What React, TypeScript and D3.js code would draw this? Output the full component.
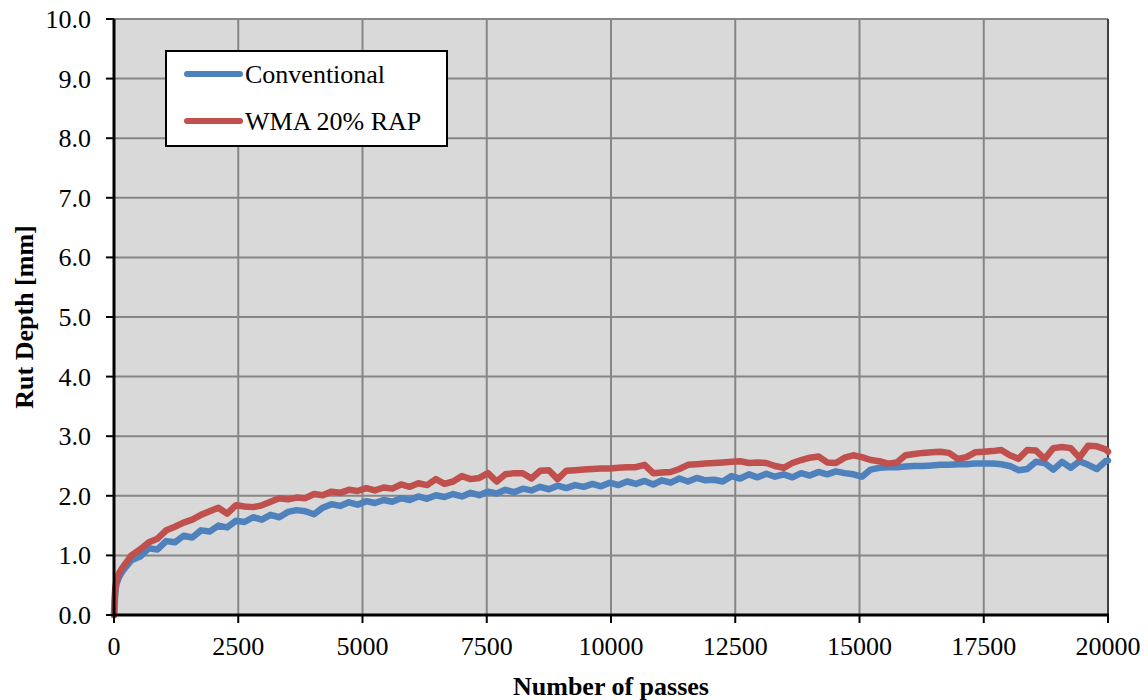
import React from "react";
import * as d3 from "d3";

const passes = [0, 25, 50, 100, 175, 350, 525, 700, 875, 1050, 1225, 1400, 1575, 1750, 1925, 2100, 2275, 2450, 2625, 2800, 2975, 3150, 3325, 3500, 3675, 3850, 4025, 4200, 4375, 4550, 4725, 4900, 5075, 5250, 5425, 5600, 5775, 5950, 6125, 6300, 6475, 6650, 6825, 7000, 7175, 7350, 7525, 7700, 7875, 8050, 8225, 8400, 8575, 8750, 8925, 9100, 9275, 9450, 9625, 9800, 9975, 10150, 10325, 10500, 10675, 10850, 11025, 11200, 11375, 11550, 11725, 11900, 12075, 12250, 12425, 12600, 12775, 12950, 13125, 13300, 13475, 13650, 13825, 14000, 14175, 14350, 14525, 14700, 14875, 15050, 15225, 15400, 15575, 15750, 15925, 16100, 16275, 16450, 16625, 16800, 16975, 17150, 17325, 17500, 17675, 17850, 18025, 18200, 18375, 18550, 18725, 18900, 19075, 19250, 19425, 19600, 19775, 19950, 20000];

const conventional = [0.0, 0.38, 0.52, 0.63, 0.74, 0.92, 0.98, 1.12, 1.10, 1.24, 1.22, 1.33, 1.30, 1.42, 1.40, 1.50, 1.47, 1.58, 1.56, 1.64, 1.60, 1.68, 1.64, 1.73, 1.76, 1.74, 1.69, 1.80, 1.86, 1.83, 1.89, 1.85, 1.91, 1.88, 1.93, 1.90, 1.96, 1.93, 1.99, 1.95, 2.01, 1.98, 2.03, 1.99, 2.05, 2.01, 2.07, 2.04, 2.10, 2.06, 2.12, 2.09, 2.15, 2.11, 2.17, 2.13, 2.18, 2.15, 2.20, 2.16, 2.22, 2.18, 2.24, 2.20, 2.25, 2.19, 2.26, 2.22, 2.29, 2.24, 2.30, 2.26, 2.27, 2.24, 2.33, 2.29, 2.36, 2.31, 2.37, 2.32, 2.36, 2.31, 2.38, 2.34, 2.40, 2.36, 2.41, 2.38, 2.36, 2.32, 2.44, 2.47, 2.48, 2.48, 2.49, 2.50, 2.50, 2.51, 2.52, 2.52, 2.53, 2.53, 2.54, 2.54, 2.54, 2.53, 2.50, 2.43, 2.45, 2.57, 2.55, 2.44, 2.57, 2.47, 2.58, 2.52, 2.45, 2.58, 2.59];

const wma20rap = [0.0, 0.45, 0.58, 0.70, 0.80, 1.00, 1.10, 1.22, 1.28, 1.42, 1.48, 1.55, 1.60, 1.68, 1.74, 1.80, 1.70, 1.84, 1.82, 1.81, 1.84, 1.90, 1.96, 1.94, 1.97, 1.96, 2.03, 2.01, 2.07, 2.05, 2.10, 2.08, 2.13, 2.09, 2.14, 2.12, 2.19, 2.15, 2.21, 2.18, 2.28, 2.20, 2.24, 2.33, 2.28, 2.30, 2.38, 2.24, 2.36, 2.38, 2.38, 2.29, 2.42, 2.43, 2.28, 2.42, 2.43, 2.44, 2.45, 2.46, 2.46, 2.47, 2.48, 2.48, 2.52, 2.38, 2.39, 2.40, 2.45, 2.52, 2.53, 2.54, 2.55, 2.56, 2.57, 2.58, 2.55, 2.56, 2.55, 2.50, 2.47, 2.55, 2.60, 2.64, 2.66, 2.56, 2.55, 2.64, 2.68, 2.65, 2.60, 2.58, 2.54, 2.56, 2.68, 2.70, 2.72, 2.73, 2.74, 2.72, 2.62, 2.65, 2.73, 2.74, 2.75, 2.77, 2.68, 2.62, 2.77, 2.76, 2.62, 2.80, 2.82, 2.80, 2.64, 2.84, 2.83, 2.78, 2.74];

const seriesNames = ["Conventional", "WMA 20% RAP"];
const seriesColors = ["#4f81bd", "#c0504d"];
const xTicks = [0, 2500, 5000, 7500, 10000, 12500, 15000, 17500, 20000];
const yTicks = [0, 1, 2, 3, 4, 5, 6, 7, 8, 9, 10];

const W = 1148;
const H = 700;
const M = { left: 114, right: 1108, top: 19, bottom: 615 };
const FONT = "'Liberation Serif', 'Times New Roman', serif";

export default function App() {
  const x = d3.scaleLinear().domain([0, 20000]).range([M.left, M.right]);
  const y = d3.scaleLinear().domain([0, 10]).range([M.bottom, M.top]);
  const line = d3
    .line<number>()
    .x((_, i) => x(passes[i]))
    .y((d) => y(d));
  const series = [conventional, wma20rap];

  return (
    <svg
      width={W}
      height={H}
      style={{ position: "absolute", left: 0, top: 0, background: "#fff" }}
      fontFamily={FONT}
    >
      <rect x={M.left} y={M.top} width={M.right - M.left} height={M.bottom - M.top} fill="#d9d9d9" />
      {yTicks.map((t) => (
        <line key={"gy" + t} x1={M.left} x2={M.right} y1={y(t)} y2={y(t)} stroke="#868686" strokeWidth={2} />
      ))}
      {xTicks.slice(1, -1).map((t) => (
        <line key={"gx" + t} x1={x(t)} x2={x(t)} y1={M.top} y2={M.bottom} stroke="#868686" strokeWidth={2} />
      ))}
      <line x1={M.right} x2={M.right} y1={M.top} y2={M.bottom} stroke="#404040" strokeWidth={2} />
      {series.map((s, i) => (
        <path
          key={"s" + i}
          d={line(s) || ""}
          fill="none"
          stroke={seriesColors[i]}
          strokeWidth={6.5}
          strokeLinejoin="round"
          strokeLinecap="round"
        />
      ))}
      <line x1={M.left} x2={M.left} y1={M.top} y2={M.bottom + 1.5} stroke="#000" strokeWidth={3} />
      <line x1={M.left - 1.5} x2={M.right + 1} y1={M.bottom} y2={M.bottom} stroke="#000" strokeWidth={3} />
      {yTicks.map((t) => (
        <g key={"ty" + t}>
          <line x1={M.left - 8} x2={M.left} y1={y(t)} y2={y(t)} stroke="#000" strokeWidth={2} />
          <text x={91} y={y(t) + 9} textAnchor="end" fontSize={26} fill="#000">
            {t.toFixed(1)}
          </text>
        </g>
      ))}
      {xTicks.map((t) => (
        <g key={"tx" + t}>
          <line x1={x(t)} x2={x(t)} y1={M.bottom} y2={M.bottom + 8} stroke="#000" strokeWidth={2} />
          <text x={x(t)} y={655} textAnchor="middle" fontSize={26} fill="#000">
            {t}
          </text>
        </g>
      ))}
      <text x={611} y={695} textAnchor="middle" fontSize={26} fontWeight="bold" fill="#000">
        Number of passes
      </text>
      <text
        transform={`translate(33, ${(M.top + M.bottom) / 2}) rotate(-90)`}
        textAnchor="middle"
        fontSize={26}
        fontWeight="bold"
        fill="#000"
      >
        Rut Depth [mm]
      </text>
      <rect x={166} y={51} width={281} height={95} fill="#fff" stroke="#000" strokeWidth={2} />
      {seriesNames.map((n, i) => (
        <g key={"lg" + i}>
          <line
            x1={187}
            x2={240}
            y1={74 + i * 47}
            y2={74 + i * 47}
            stroke={seriesColors[i]}
            strokeWidth={6}
            strokeLinecap="round"
          />
          <text x={245} y={83 + i * 47} fontSize={26} fill="#000">
            {n}
          </text>
        </g>
      ))}
    </svg>
  );
}
